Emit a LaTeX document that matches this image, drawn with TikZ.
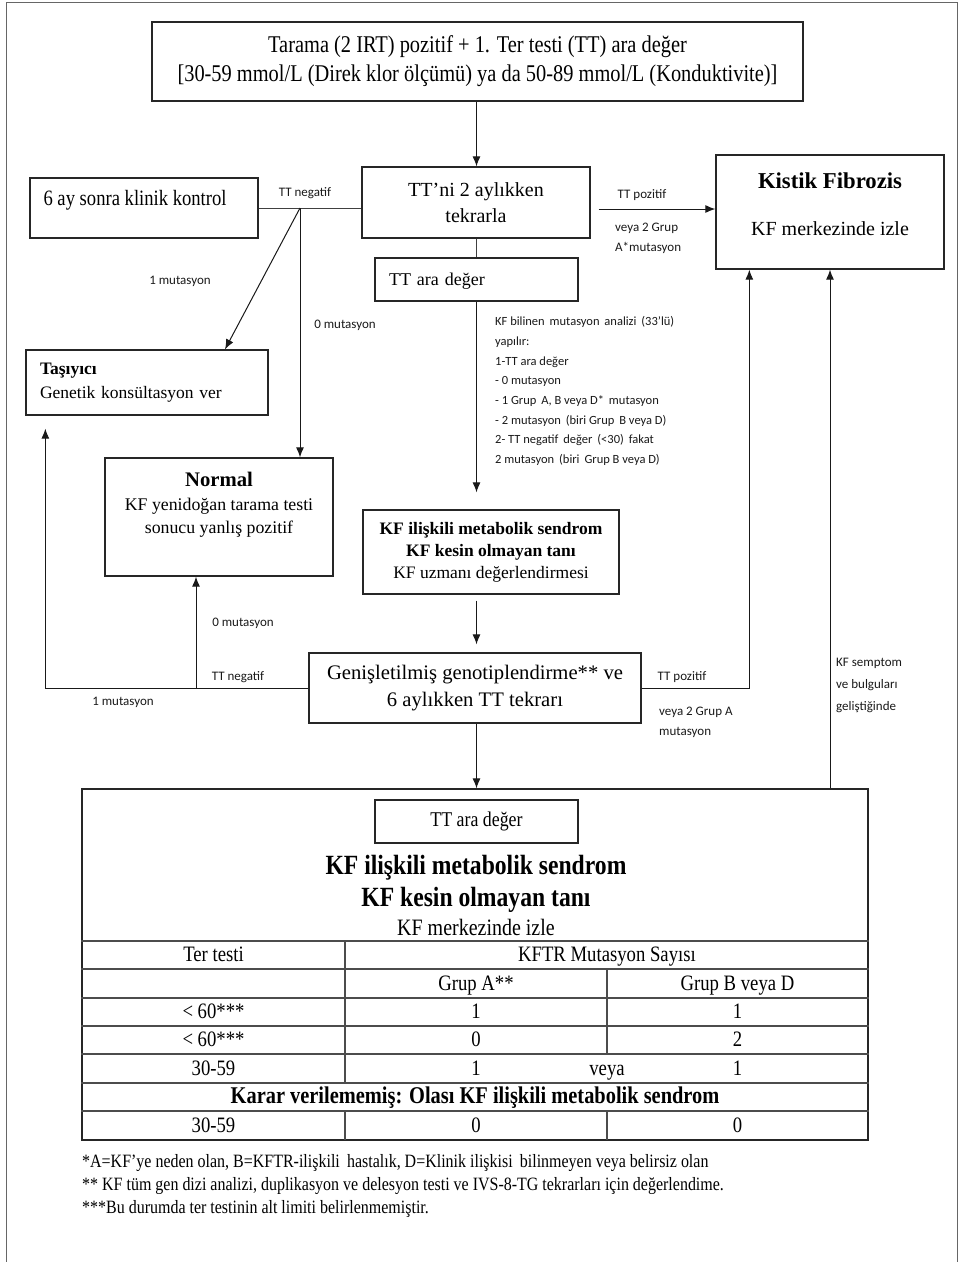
\documentclass[tikz,border=0pt]{standalone}
\usepackage{fontspec}
\setmainfont{Liberation Serif}
\newfontfamily\narrow{Liberation Serif}[FakeStretch=0.85,Ligatures=TeX]
\newfontfamily\calibri{Carlito}[Ligatures=TeX]
\usetikzlibrary{
  arrows.meta,
  calc,
  positioning
}
\newcommand\setsize[2]{\fontsize{#1pt}{#2pt}\selectfont}
\tikzset{
  >={Latex[length=10pt,width=8pt]},
  flow/.style={->,line width=1pt,draw=black!90},
  link/.style={line width=1pt,draw=black!75},
  frame/.style={line width=1pt,draw=black!60},
  box/.style={
    draw=black!85,
    line width=1.3pt,
    fill=white,
    align=center,
    inner sep=0pt
  },
  sized/.style 2 args={minimum width=#1pt,minimum height=#2pt},
  boxtext/.style={anchor=north,align=center,inner sep=0pt},
  note/.style={font=\calibri\setsize{13}{20},align=left,text=black!90,inner sep=0pt},
  grid/.style={line width=1.5pt,draw=black!70},
  cell/.style={font=\narrow\setsize{22}{24},inner sep=0pt,text height=13pt,text depth=0pt}
}

\begin{document}
\begin{tikzpicture}[x=1pt,y=-1pt]
  \useasboundingbox (0,0) rectangle (962,1262);
  \draw[frame] (6,1262) -- (6,2) -- (957,2) -- (957,1262);

  % upper part
  \node[box,sized={651}{79},font=\narrow\setsize{24}{29}] (screen) at (477.5,61.5)
    {Tarama (2 IRT) pozitif + 1. Ter testi (TT) ara değer\\{[}30-59 mmol/L (Direk klor ölçümü) ya da 50-89 mmol/L (Konduktivite)]};
  \node[box,sized={228}{71},font=\setsize{20}{26}] (repeat) at (476,202.5) {TT'ni 2 aylıkken\\tekrarla};
  \node[box,sized={228}{60},
    label={[boxtext,anchor=north west,font=\narrow\setsize{21.9}{24},xshift=14pt,yshift=-13pt]north west:6 ay sonra klinik kontrol}]
    (followup) at (144,208) {};
  \node[box,sized={228}{114},
    label={[boxtext,font=\setsize{20}{24},yshift=-18pt]north:{{\bfseries\setsize{22.7}{26}Kistik Fibrozis}\\[23pt]KF merkezinde izle}}]
    (kf) at (830,212) {};
  \node[box,sized={203}{43},align=left,text width=175pt,font=\setsize{18}{22},text height=13pt,text depth=1pt] (midval) at (476.5,279.5) {TT ara değer};
  \node[box,sized={242}{65},align=left,text width=214pt,font=\setsize{17.5}{24}] (carrier) at (147,382.5)
    {\textbf{Taşıyıcı}\\Genetik konsültasyon ver};
  \node[box,sized={228}{118},
    label={[boxtext,font=\setsize{17.8}{23.5},yshift=-15pt]north:{{\bfseries\setsize{20.7}{24}Normal}\\KF yenidoğan tarama testi\\sonucu yanlış pozitif}}]
    (normal) at (219,517) {};
  \node[box,sized={256}{84},font=\setsize{17.5}{22}] (kfsyn) at (491,552)
    {\textbf{KF ilişkili metabolik sendrom}\\\textbf{KF kesin olmayan tanı}\\KF uzmanı değerlendirmesi};
  \node[box,sized={332}{70},font=\setsize{20.65}{27}] (extgen) at (475,688)
    {Genişletilmiş genotiplendirme** ve\\6 aylıkken TT tekrarı};

  \coordinate (negsplit) at (300,208);
  \coordinate (lowsplit) at (196,688);

  \draw[link] (followup.east) -- (followup.east -| repeat.west);
  \draw[flow] (screen.south -| midval.north) -- (repeat.north -| midval.north);
  \draw[flow] (negsplit) -- ([xshift=78pt]carrier.north);
  \draw[flow] (negsplit) -- (negsplit |- normal.north);
  \draw[flow] ([xshift=8pt,yshift=-6.5pt]repeat.east) -- ([yshift=-6.5pt]repeat.east -| kf.west);
  \draw[link] (repeat.south -| midval.north) -- (midval.north);
  \draw[flow,shorten >=17pt] (midval.south) -- (kfsyn.north -| midval.south);
  \draw[flow,shorten <=6pt,shorten >=8pt] (kfsyn.south -| midval.south) -- (extgen.north -| midval.south);
  \draw[flow,shorten >=13pt] (extgen.west) -| ([xshift=20pt]carrier.south west);
  \draw[flow] (lowsplit) -- (lowsplit |- normal.south);
  \draw[flow] (extgen.east) -| ([xshift=34pt]kf.south west);

  \node[note] (negtop) at (305,193) {TT negatif};
  \node[note] (onemut) at (180,281) {1 mutasyon};
  \node[note] (zeromut) at (345,325) {0 mutasyon};
  \node[note] (postop) at (642,195) {TT pozitif};
  \node[note,anchor=west] (postopor) at (615,238) {veya 2 Grup\\A*mutasyon};
  \node[note,anchor=west,font=\calibri\setsize{12.5}{19.7}] (analysis) at (495,391)
    {KF bilinen\, mutasyon\, analizi\, (33'lü)\\yapılır:\\1-TT ara değer\\- 0 mutasyon\\- 1 Grup\, A, B veya D*\, mutasyon\\- 2 mutasyon\, (biri Grup\, B veya D)\\2- TT negatif\, değer\, (<30)\, fakat\\2 mutasyon\, (biri\, Grup B veya D)};
  \node[note] (zeromutlow) at (243,623) {0 mutasyon};
  \node[note] (neglow) at (238,677) {TT negatif};
  \node[note] (onemutlow) at (123,702) {1 mutasyon};
  \node[note] (poslow) at (682,677) {TT pozitif};
  \node[note,anchor=west] (poslowor) at (659,722.5) {veya 2 Grup A\\mutasyon};
  \node[note,anchor=west,font=\calibri\setsize{13}{22}] (symptom) at (836,685) {KF semptom\\ve bulguları\\geliştiğinde};

  % lower box with table
  \node[box,sized={786}{351}] (bigbox) at (475,964.5) {};
  \draw[flow] (extgen.south -| midval.south) -- (bigbox.north -| midval.south);
  \draw[flow] (kf.south |- bigbox.north) -- (kf.south);

  \node[box,sized={203}{43},font=\narrow\setsize{21}{22}] (innerval) at (476.5,821.5) {TT ara değer};
  \node[font=\narrow\setsize{27.8}{32}\bfseries,align=center,inner sep=0pt] (synd) at (476,884)
    {KF ilişkili metabolik sendrom\\KF kesin olmayan tanı};
  \node[font=\narrow\setsize{23.5}{24},inner sep=0pt] (center) at (476,927) {KF merkezinde izle};

  \foreach \y in {941,969,998,1026,1054,1083,1111}
    \draw[grid] (bigbox.west |- 0,\y) -- (bigbox.east |- 0,\y);
  \draw[grid] (345,941) -- (345,1083) (345,1111) -- (345,1140);
  \draw[grid] (607,969) -- (607,1054) (607,1111) -- (607,1140);

  \node[cell] (head-test) at (213.5,955) {Ter testi};
  \node[cell] (head-count) at (607,955) {KFTR Mutasyon Sayısı};
  \node[cell] (head-a) at (476,983.5) {Grup A**};
  \node[cell] (head-bd) at (737.5,983.5) {Grup B veya D};
  \foreach \y/\t/\a/\b [count=\r] in {1012/{< 60***}/1/1, 1040/{< 60***}/0/2, 1125.5/30-59/0/0} {
    \node[cell] (row\r-test) at (213.5,\y) {\t};
    \node[cell] (row\r-a) at (476,\y) {\a};
    \node[cell] (row\r-bd) at (737.5,\y) {\b};
  }
  \node[cell] (or-test) at (213.5,1068.5) {30-59};
  \node[cell] (or-a) at (476,1068.5) {1};
  \node[cell] (or-word) at (607,1068.5) {veya};
  \node[cell] (or-bd) at (737.5,1068.5) {1};
  \node[cell,font=\narrow\setsize{24}{24}\bfseries] (undecided) at (475,1097)
    {Karar verilememiş: Olası KF ilişkili metabolik sendrom};

  \node[anchor=west,align=left,inner sep=0pt,font=\narrow\setsize{18.8}{23}] (footnotes) at (82,1186)
    {*A=KF'ye neden olan, B=KFTR-ilişkili\, hastalık, D=Klinik ilişkisi\, bilinmeyen veya belirsiz olan\\
     ** KF tüm gen dizi analizi, duplikasyon ve delesyon testi ve IVS-8-TG tekrarları için değerlendime.\\
     ***Bu durumda ter testinin alt limiti belirlenmemiştir.};
\end{tikzpicture}
\end{document}
